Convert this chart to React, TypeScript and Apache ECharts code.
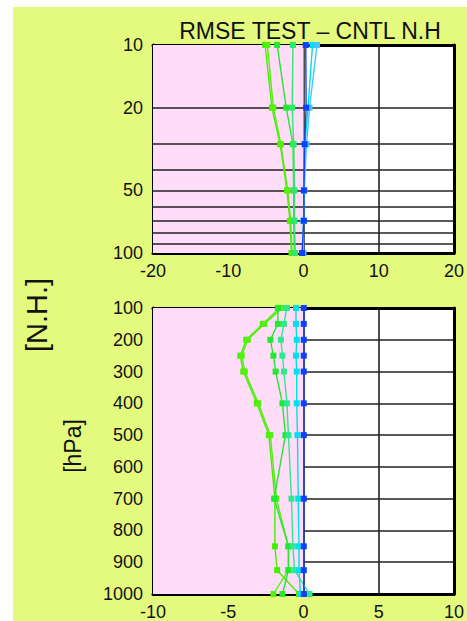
import React, { useEffect, useRef } from "react";
import * as echarts from "echarts";

const TITLE = "RMSE TEST – CNTL N.H";

const topLevels = [10, 20, 30, 50, 70, 100];
const topGridLevels = [20, 30, 40, 50, 60, 70, 80, 90];
const topLabelLevels = [20, 50];
const topSeries = [
  { name: "t1", color: "#44ee00", values: [-5.1, -4.2, -3.1, -2.2, -1.8, -1.6] },
  { name: "t1b", color: "#55f010", values: [-4.8, -4.0, -3.0, -2.1, -1.7, -1.5] },
  { name: "t2", color: "#22e830", values: [-3.5, -2.3, -1.4, -1.3, -1.3, -1.2] },
  { name: "t3", color: "#30e870", values: [-1.4, -1.5, -1.3, -1.2, -1.2, -1.1] },
  { name: "t4", color: "#00e0e8", values: [1.2, 0.6, 0.2, 0.1, 0.0, -0.1] },
  { name: "t5", color: "#40c8ff", values: [1.8, 0.8, 0.4, 0.1, 0.0, 0.0] },
  { name: "t6", color: "#1040ff", values: [0.3, 0.35, 0.15, 0.05, 0.05, -0.2] },
];

const bottomLevels = [100, 150, 200, 250, 300, 400, 500, 700, 850, 925, 1000];
const bottomSeries = [
  { name: "b1", color: "#44ee00", values: [-1.6, -2.7, -3.8, -4.2, -4.0, -3.1, -2.3, -1.9, -1.9, -1.75, -0.3] },
  { name: "b2", color: "#55f010", values: [-1.4, -2.6, -3.7, -4.1, -3.9, -3.0, -2.2, -1.8, -1.0, -1.0, -2.0] },
  { name: "b3", color: "#22e830", values: [-1.7, -1.7, -2.2, -2.0, -1.85, -1.4, -1.2, -1.95, -1.0, -1.0, -1.4] },
  { name: "b4", color: "#30e890", values: [-1.1, -1.3, -1.5, -1.4, -1.3, -1.1, -1.0, -0.8, -0.7, -0.6, 0.4] },
  { name: "b5", color: "#00e0e8", values: [-0.5, -0.5, -0.45, -0.5, -0.45, -0.45, -0.4, -0.35, -0.3, -0.3, -0.2] },
  { name: "b6", color: "#1040ff", values: [0.02, 0.02, 0.02, 0.02, 0.02, 0.02, 0.02, 0.02, 0.02, 0.02, 0.02] },
];

const topX = { min: -20, max: 20, interval: 10 };
const bottomX = { min: -10, max: 10, interval: 5 };
const bottomY = { min: 100, max: 1000, interval: 100 };

const FONT = "'Liberation Sans', Arial, sans-serif";
const PINK = "#ffdcf8";

export default function App() {
  const ref = useRef<HTMLDivElement>(null);
  useEffect(() => {
    document.body.style.margin = "0";
    const chart = echarts.init(ref.current!, null, { renderer: "svg" });
    const labelStyle = { color: "#111", fontSize: 18, fontFamily: FONT };
    const splitStyle = { show: true, lineStyle: { color: "#222", width: 1.6 } };
    const frameLine = { show: true, lineStyle: { color: "#000", width: 3 } };
    const plain = (v: number) => String(v);

    const mkLine = (s: any, grid: number, levels: number[]) => ({
      type: "line",
      name: s.name,
      xAxisIndex: grid * 2,
      yAxisIndex: grid * 2,
      data: s.values.map((v: number, i: number) => [v, levels[i]]),
      color: s.color,
      lineStyle: { width: 1.4, color: s.color },
      symbol: "rect",
      symbolSize: 6,
      itemStyle: { color: s.color },
      z: 5,
    });

    const option: any = {
      animation: false,
      title: {
        text: TITLE,
        left: 305,
        top: 14,
        textAlign: "center",
        textStyle: { fontSize: 23, fontWeight: "normal", color: "#111", fontFamily: FONT },
      },
      grid: [
        { left: 153, top: 45, width: 302, height: 208, show: true, backgroundColor: "#fff", borderWidth: 0 },
        { left: 153, top: 308, width: 302, height: 290, show: true, backgroundColor: "#fff", borderWidth: 0 },
      ],
      xAxis: [
        {
          gridIndex: 0, type: "value", ...topX, position: "bottom",
          axisLine: { ...frameLine, onZero: false }, axisTick: { show: false },
          axisLabel: { ...labelStyle, margin: 9, formatter: plain }, splitLine: splitStyle,
        },
        {
          gridIndex: 0, type: "value", ...topX, position: "top",
          axisLine: { ...frameLine, onZero: false }, axisTick: { show: false },
          axisLabel: { show: false }, splitLine: { show: false },
        },
        {
          gridIndex: 1, type: "value", ...bottomX, position: "bottom",
          axisLine: { ...frameLine, onZero: false }, axisTick: { show: false },
          axisLabel: { ...labelStyle, margin: 9, formatter: plain }, splitLine: splitStyle,
        },
        {
          gridIndex: 1, type: "value", ...bottomX, position: "top",
          axisLine: { ...frameLine, onZero: false }, axisTick: { show: false },
          axisLabel: { show: false }, splitLine: { show: false },
        },
      ],
      yAxis: [
        {
          gridIndex: 0, type: "log", logBase: 10, min: 10, max: 100, inverse: true, position: "left",
          axisLine: { ...frameLine, onZero: false }, axisTick: { show: false },
          axisLabel: { ...labelStyle, margin: 10, formatter: plain }, splitLine: { show: false },
        },
        {
          gridIndex: 0, type: "log", logBase: 10, min: 10, max: 100, inverse: true, position: "right",
          axisLine: { ...frameLine, onZero: false }, axisTick: { show: false },
          axisLabel: { show: false }, splitLine: { show: false },
        },
        {
          gridIndex: 1, type: "value", ...bottomY, inverse: true, position: "left",
          axisLine: { ...frameLine, onZero: false }, axisTick: { show: false },
          axisLabel: { ...labelStyle, margin: 10, formatter: plain }, splitLine: splitStyle,
        },
        {
          gridIndex: 1, type: "value", ...bottomY, inverse: true, position: "right",
          axisLine: { ...frameLine, onZero: false }, axisTick: { show: false },
          axisLabel: { show: false }, splitLine: { show: false },
        },
      ],
      graphic: [
        {
          type: "text", x: 37, y: 315, rotation: Math.PI / 2,
          style: { text: "[N.H.]", fontSize: 29, fontFamily: FONT, fill: "#111", align: "center", verticalAlign: "middle" },
        },
        {
          type: "text", x: 73, y: 446, rotation: Math.PI / 2,
          style: { text: "[hPa]", fontSize: 23, fontFamily: FONT, fill: "#111", align: "center", verticalAlign: "middle" },
        },
      ],
      series: [
        {
          type: "line", xAxisIndex: 0, yAxisIndex: 0, data: [], silent: true,
          markArea: {
            silent: true, itemStyle: { color: PINK },
            data: [[{ xAxis: topX.min, yAxis: 10 }, { xAxis: 0, yAxis: 100 }]],
          },
          markLine: {
            silent: true, symbol: "none", animation: false,
            lineStyle: { color: "#222", width: 1.6, type: "solid" },
            label: {
              show: true, position: "start", distance: 10, ...labelStyle,
              formatter: (p: any) => (topLabelLevels.includes(p.value) ? String(p.value) : ""),
            },
            data: topGridLevels.map((v) => ({ yAxis: v })),
          },
          z: 1,
        },
        {
          type: "line", xAxisIndex: 2, yAxisIndex: 2, data: [], silent: true,
          markArea: {
            silent: true, itemStyle: { color: PINK },
            data: [[{ xAxis: bottomX.min, yAxis: bottomY.min }, { xAxis: 0, yAxis: bottomY.max }]],
          },
          z: 1,
        },
        ...topSeries.map((s) => mkLine(s, 0, topLevels)),
        ...bottomSeries.map((s) => mkLine(s, 1, bottomLevels)),
      ],
    };
    chart.setOption(option);
    return () => chart.dispose();
  }, []);

  return (
    <div style={{ position: "relative", width: 467, height: 621, background: "#fff" }}>
      <div style={{ position: "absolute", left: 13, top: 7, width: 454, height: 614, background: "#e3fa7e" }} />
      <div ref={ref} style={{ position: "absolute", left: 0, top: 0, width: 467, height: 621 }} />
    </div>
  );
}
